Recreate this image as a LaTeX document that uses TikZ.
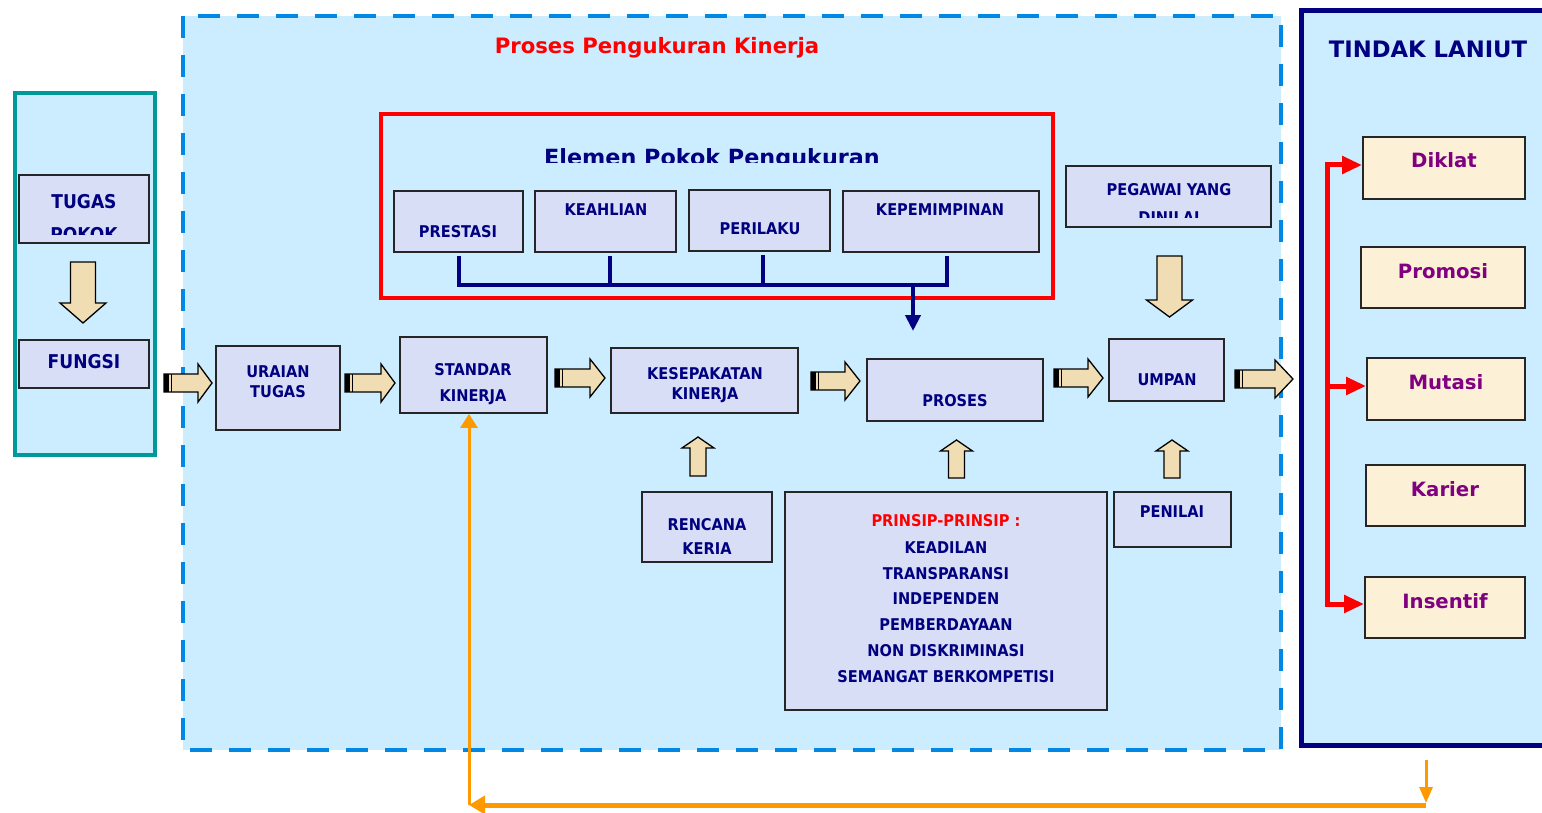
\documentclass[tikz,border=0pt]{standalone}
\usepackage{fontspec}
\usetikzlibrary{arrows.meta}
\newfontfamily\condfont{DejaVu Sans Condensed Bold}
\newfontfamily\djs{DejaVu Sans}
\newfontfamily\djsb{DejaVu Sans Bold}
\definecolor{lb}{RGB}{204,236,255}
\definecolor{boxfill}{RGB}{216,222,246}
\definecolor{tfill}{RGB}{252,240,215}
\definecolor{beige}{RGB}{240,221,180}
\definecolor{navy}{RGB}{0,0,128}
\definecolor{tealc}{RGB}{0,153,153}
\definecolor{dashb}{RGB}{0,136,228}
\definecolor{orng}{RGB}{255,153,0}
\definecolor{purp}{RGB}{128,0,128}
\definecolor{redc}{RGB}{255,0,0}
\newcommand\blkR[4]{%
 \filldraw[blk] (#1,#3-9) -- (#2-#4,#3-9) -- (#2-#4,#3-19) -- (#2,#3) -- (#2-#4,#3+19) -- (#2-#4,#3+9) -- (#1,#3+9) -- cycle;
 \fill[black] (#1,#3-9) rectangle (#1+4.5,#3+9);
 \draw[black,line width=1pt] (#1+7,#3-9) -- (#1+7,#3+9);}
\newcommand\blkV[6]{%
 \filldraw[blk] (#1-#5,#2) -- (#1-#5,#3) -- (#1-#6,#3) -- (#1,#4) -- (#1+#6,#3) -- (#1+#5,#3) -- (#1+#5,#2) -- cycle;}
\begin{document}
\begin{tikzpicture}[x=1pt,y=-1pt,
  box/.style={draw=black!85, line width=1.8pt, fill=boxfill, inner sep=0pt},
  tbox/.style={draw=black!85, line width=1.8pt, fill=tfill, inner sep=0pt},
  lbl/.style={anchor=base, inner sep=0pt, text=navy, font=\condfont\fontsize{16.2}{18}\selectfont},
  lblL/.style={lbl, font=\condfont\fontsize{19}{22}\selectfont},
  ttxt/.style={anchor=base, inner sep=0pt, text=purp, font=\djsb\fontsize{19.7}{22}\selectfont},
  blk/.style={fill=beige, draw=black, line width=1.3pt},
  nline/.style={draw=navy, line width=4pt},
  rline/.style={draw=redc, line width=5pt},
  oline/.style={draw=orng}]
\clip (0,0) rectangle (1542,813);
\fill[white] (0,0) rectangle (1542,813);
% containers
\draw[dashb, line width=4pt, dash pattern=on 22pt off 17pt, fill=lb] (183,16) rectangle (1281,750);
\draw[tealc, line width=4pt, fill=lb] (15,93) rectangle (155,455);
\draw[navy, line width=5pt, fill=lb] (1301.5,10.5) rectangle (1570,745.5);
\draw[redc, line width=4pt] (381,114) rectangle (1053,298);
% titles
\node[anchor=base, inner sep=0pt, text=redc, font=\djsb\fontsize{21.2}{26}\selectfont] (title) at (657,54) {Proses Pengukuran Kinerja};
\begin{scope}
\clip (383,118) rectangle (1050,163);
\node[anchor=base, inner sep=0pt, text=navy, font=\djsb\fontsize{22.3}{26}\selectfont] (elemen) at (712,166) {Elemen Pokok Pengukuran};
\end{scope}
\node[anchor=base, inner sep=0pt, text=navy, font=\djsb\fontsize{22.7}{26}\selectfont] (tindak) at (1428,57.3) {TINDAK LANIUT};
% boxes
\node[box, minimum width=130pt, minimum height=68pt] (tugas) at (84,209) {};
\node[box, minimum width=130pt, minimum height=48pt] (fungsi) at (84,364) {};
\node[box, minimum width=124pt, minimum height=84pt] (uraian) at (278,388) {};
\node[box, minimum width=147pt, minimum height=76pt] (standar) at (473.5,375) {};
\node[box, minimum width=187pt, minimum height=65pt] (kesep) at (704.5,380.5) {};
\node[box, minimum width=176pt, minimum height=62pt] (proses) at (955,390) {};
\node[box, minimum width=115pt, minimum height=62pt] (umpan) at (1166.5,370) {};
\node[box, minimum width=129pt, minimum height=61pt] (prestasi) at (458.5,221.5) {};
\node[box, minimum width=141pt, minimum height=61pt] (keahlian) at (605.5,221.5) {};
\node[box, minimum width=141pt, minimum height=61pt] (perilaku) at (759.5,220.5) {};
\node[box, minimum width=196pt, minimum height=61pt] (kepem) at (941,221.5) {};
\node[box, minimum width=205pt, minimum height=61pt] (pegawai) at (1168.5,196.5) {};
\node[box, minimum width=130pt, minimum height=70pt] (rencana) at (707,527) {};
\node[box, minimum width=322pt, minimum height=218pt] (prinsip) at (946,601) {};
\node[box, minimum width=117pt, minimum height=55pt] (penilai) at (1172.5,519.5) {};
\node[tbox, minimum width=162pt, minimum height=62pt] (diklat) at (1444,168) {};
\node[tbox, minimum width=164pt, minimum height=61pt] (promosi) at (1443,277.5) {};
\node[tbox, minimum width=158pt, minimum height=62pt] (mutasi) at (1446,389) {};
\node[tbox, minimum width=159pt, minimum height=61pt] (karier) at (1445.5,495.5) {};
\node[tbox, minimum width=160pt, minimum height=61pt] (insentif) at (1445,607.5) {};
% labels
\node[lblL] (l1) at (84,209) {TUGAS};
\begin{scope}
\clip (20,176) rectangle (148,235);
\node[lblL] (l2) at (84,242) {POKOK};
\end{scope}
\node[lblL] (l3) at (84,368) {FUNGSI};
\node[lbl] (l4) at (278,377) {URAIAN};
\node[lbl] (l5) at (278,397) {TUGAS};
\node[lbl] (l6) at (473,375) {STANDAR};
\node[lbl] (l7) at (473,401) {KINERJA};
\node[lbl] (l8) at (705,379) {KESEPAKATAN};
\node[lbl] (l9) at (705,399) {KINERJA};
\node[lbl] (l10) at (955,406) {PROSES};
\node[lbl] (l11) at (1167,385) {UMPAN};
\node[lbl] (l12) at (458,237) {PRESTASI};
\node[lbl] (l13) at (606,216) {KEAHLIAN};
\node[lbl] (l14) at (760,235) {PERILAKU};
\node[lbl] (l15) at (940,216) {KEPEMIMPINAN};
\node[lbl] (l16) at (1169,196) {PEGAWAI YANG};
\begin{scope}
\clip (1067,167) rectangle (1270,218);
\node[lbl] (l17) at (1169,223.5) {DINILAI};
\end{scope}
\node[lbl] (l18) at (707,530) {RENCANA};
\node[lbl] (l19) at (707,554) {KERIA};
\node[lbl, text=redc] (l20) at (946,526) {PRINSIP-PRINSIP :};
\node[lbl] (l21) at (946,553) {KEADILAN};
\node[lbl] (l22) at (946,579) {TRANSPARANSI};
\node[lbl] (l23) at (946,604) {INDEPENDEN};
\node[lbl] (l24) at (946,630) {PEMBERDAYAAN};
\node[lbl] (l25) at (946,656) {NON DISKRIMINASI};
\node[lbl] (l26) at (946,682) {SEMANGAT BERKOMPETISI};
\node[lbl] (l27) at (1172,517) {PENILAI};
\node[ttxt] (l28) at (1444,168) {Diklat};
\node[ttxt] (l29) at (1443,278) {Promosi};
\node[ttxt] (l30) at (1446,389) {Mutasi};
\node[ttxt] (l31) at (1445,496) {Karier};
\node[ttxt] (l32) at (1445,608) {Insentif};
% block arrows
\blkV{83}{262}{303}{323}{12.5}{23}
\blkV{1169.5}{256}{300}{317}{12.5}{23}
\blkV{698}{476}{448}{437}{8}{16}
\blkV{956.5}{478}{451}{440}{8}{16}
\blkV{1172}{478}{451}{440}{8}{16}
\blkR{164}{212}{383}{14}
\blkR{345}{395}{383}{14}
\blkR{555}{605}{378}{15}
\blkR{811}{860}{381}{15}
\blkR{1054}{1103}{378}{15}
\blkR{1235}{1293}{379}{18}
% navy bracket
\coordinate (bj) at (913,284);
\coordinate (bt) at (913,331);
\draw[nline] ([yshift=-3pt]prestasi.south) -- ++(0,-29pt) -| ([xshift=6pt,yshift=-3pt]kepem.south);
\draw[nline] ([xshift=4.5pt,yshift=-3pt]keahlian.south) -- ++(0,-29pt);
\draw[nline] ([xshift=3.5pt,yshift=-3pt]perilaku.south) -- ++(0,-30pt);
\draw[nline, -{Triangle[length=16pt,width=15pt]}] (bj) -- (bt);
% red connectors
\draw[rline, line cap=rect] ([xshift=-35pt,yshift=3pt]diklat.west) -- ([xshift=-37pt,yshift=3.5pt]insentif.west);
\draw[rline, -{Triangle[length=20pt,width=17pt]}] ([xshift=-35pt,yshift=3pt]diklat.west) -- ([yshift=3pt]diklat.west);
\draw[rline, -{Triangle[length=20pt,width=17pt]}] ([xshift=-39pt,yshift=3pt]mutasi.west) -- ([yshift=3pt]mutasi.west);
\draw[rline, -{Triangle[length=20pt,width=17pt]}] ([xshift=-37pt,yshift=3.5pt]insentif.west) -- ([yshift=3.5pt]insentif.west);
% orange feedback
\coordinate (o1) at (1426,760);
\coordinate (o2) at (1426,805);
\coordinate (o3) at (469,805);
\draw[oline, line width=3pt, shorten >=2pt, -{Triangle[length=16pt,width=13pt]}] (o1) -- (o2);
\draw[oline, line width=5pt, -{Triangle[length=16pt,width=18pt]}] (o2) -- (o3);
\draw[oline, line width=3pt, -{Triangle[length=14pt,width=17pt]}] (o3) -- ([xshift=-4.5pt]standar.south);
\end{tikzpicture}
\end{document}
